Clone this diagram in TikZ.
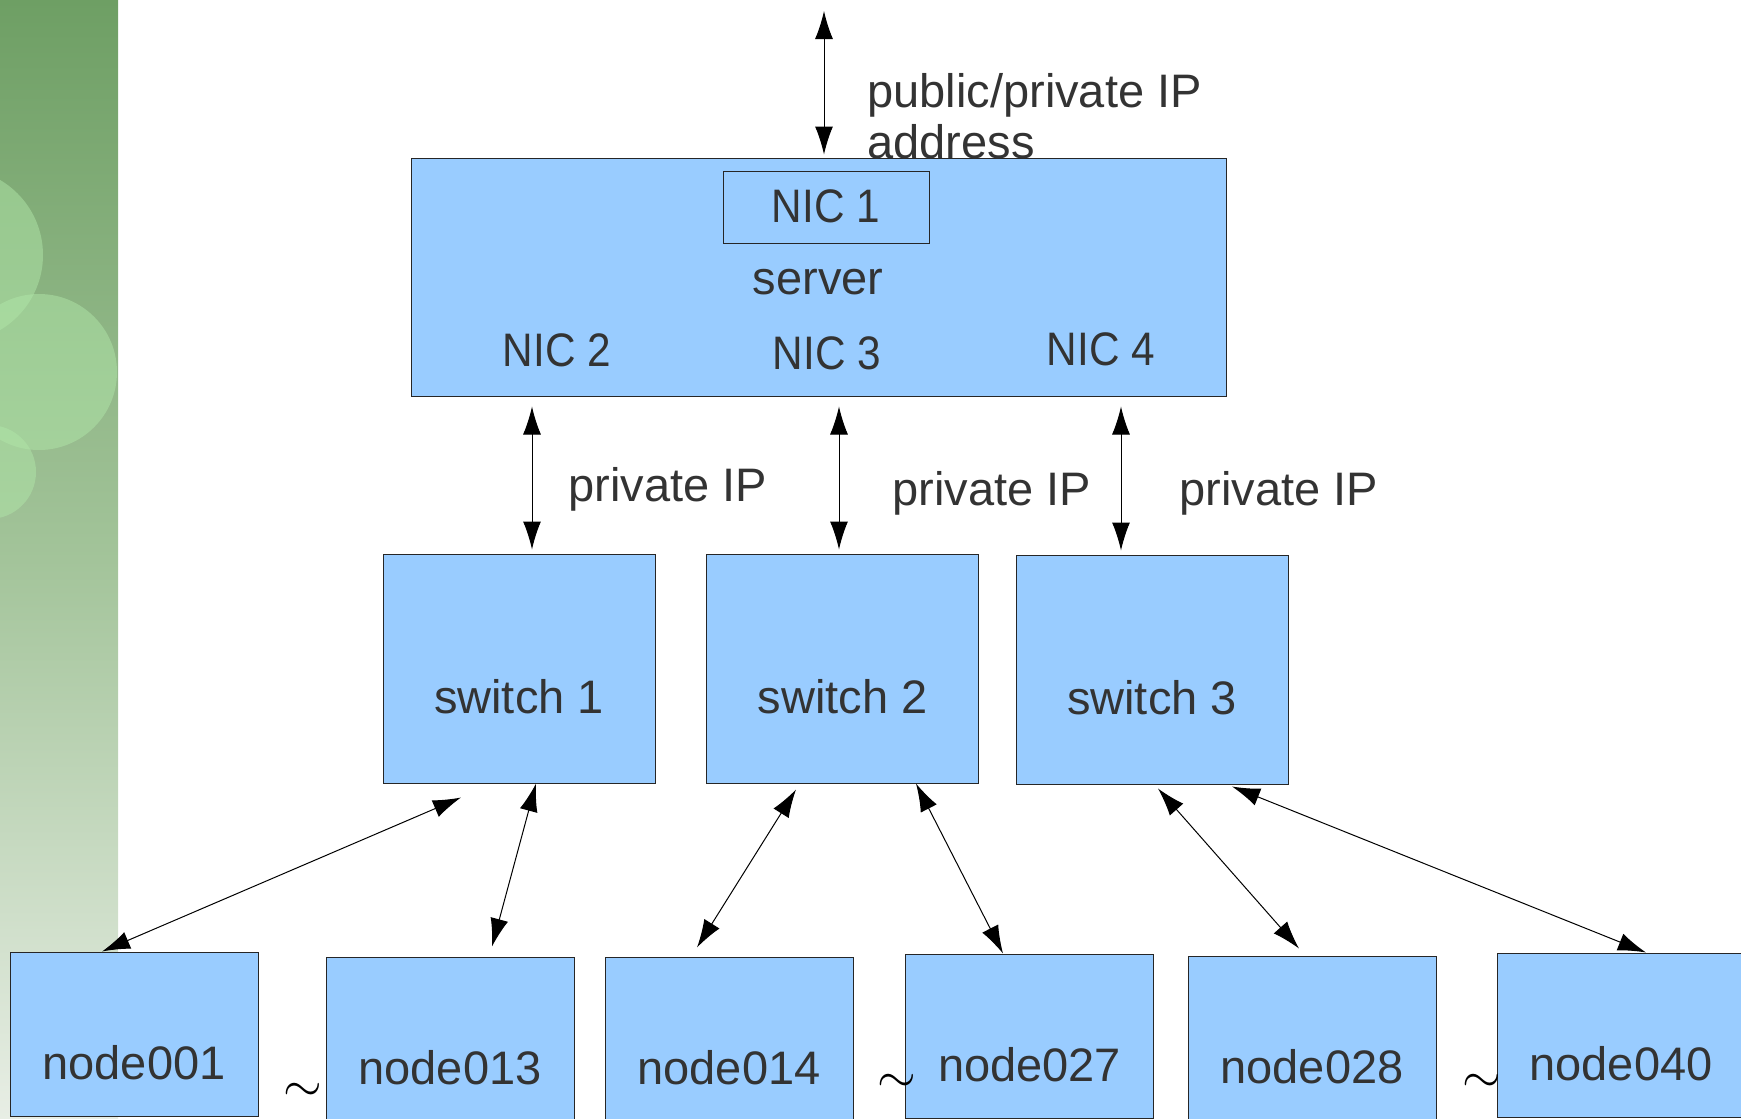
\documentclass[tikz,border=0pt]{standalone}
\usepackage{fontspec}
\setmainfont{Liberation Sans}
\usetikzlibrary{arrows.meta,calc}
\definecolor{boxblue}{HTML}{99CCFF}
\definecolor{txtgray}{HTML}{333333}
\definecolor{bandtop}{HTML}{6E9F64}
\definecolor{bandmid}{HTML}{A3C49A}
\definecolor{bandbot}{HTML}{E8EEE5}
\definecolor{bubble}{HTML}{B0E6A8}
\tikzset{
  box/.style={draw=black!85, line width=0.5pt, fill=boxblue, inner sep=0pt},
  lbl/.style={text=txtgray, inner sep=0pt, font=\fontsize{23.5}{25.5}\selectfont},
  nicl/.style={lbl, xscale=0.9},
  link/.style={line width=0.5pt, {Latex[length=14pt,width=9pt]}-{Latex[length=14pt,width=9pt]}},
}
\begin{document}
\begin{tikzpicture}[x=0.5pt,y=-0.5pt]
\useasboundingbox (0,0) rectangle (1741,1119);
% green band on the left
\shade[top color=bandtop, bottom color=bandbot, middle color=bandmid] (0,0) rectangle (118,1119);
\begin{scope}
\clip (0,0) rectangle (118,1119);
\foreach \cx/\cy/\r in {-44/255/43.5, 39/372/39, -11/472/23.5}{ \fill[bubble, opacity=0.5] (\cx,\cy) circle[radius=\r pt];}
\end{scope}

% server
\node[box, minimum width=407.5pt, minimum height=119pt] (server) at (818.5,277) {};
\node[lbl] (srvt) at (818,282) {server};
\node[box, minimum width=103pt, minimum height=36pt] (nic1) at (826,207) {};
\node[nicl] (nict1) at (826,206) {NIC 1};
\foreach \i/\x/\y in {2/557/350,3/827/353,4/1101/349}{ \node[nicl] (nic\i) at (\x,\y) {NIC \i};}

\coordinate (net) at (824,11);
\draw[link] (net) -- ($(server.north -| net)+(0,-3)$);
\node[lbl, align=left, anchor=west] (pubip) at (867,116.5) {public/private IP\\address};

% switches
\foreach \i/\x/\y in {1/519/668.5,2/842.5/668.5,3/1152/669.5}{ \node[box, minimum width=136pt, minimum height=114.5pt] (sw\i) at (\x,\y) {};
\node[lbl] (swt\i) at (\x,\y+28) {switch \i};}

\foreach \i/\dx/\x/\y in {1/13/568/489,2/-3.5/892/493,3/-31/1179/493}{ \draw[link] ($(server.south -| sw\i.north)+(\dx,10)$) -- ($(sw\i.north)+(\dx,-4)$);
\node[lbl, anchor=west] (priv\i) at (\x,\y) {private IP};}

% compute nodes
\foreach \n/\x/\y in {001/134/952,013/450/957,014/729/957,027/1029.5/954,028/1312/956,040/1621/953}{ \node[box, minimum width=124pt, minimum height=82pt] (n\n) at (\x,\y+82) {};
\node[lbl] (nt\n) at (\x,\y+111) {node\n};}

\foreach \s/\sx/\sy/\n/\nx/\ny in {1/-58/14/001/-32/0,1/17/0/013/42/-10,2/-46.5/6/014/-32/-9,2/73.5/0/027/-26.5/0,3/6/4/028/-13/-7,3/80/2/040/25/0}{ \draw[link] ($(sw\s.south)+(\sx,\sy)$) -- ($(n\n.north)+(\nx,\ny)$);}

\foreach \i/\x/\y in {1/303/1092,2/897/1083,3/1482/1083}{ \node[font=\fontsize{24}{24}\selectfont, inner sep=0pt] (til\i) at (\x,\y) {$\sim$};}

\end{tikzpicture}
\end{document}
